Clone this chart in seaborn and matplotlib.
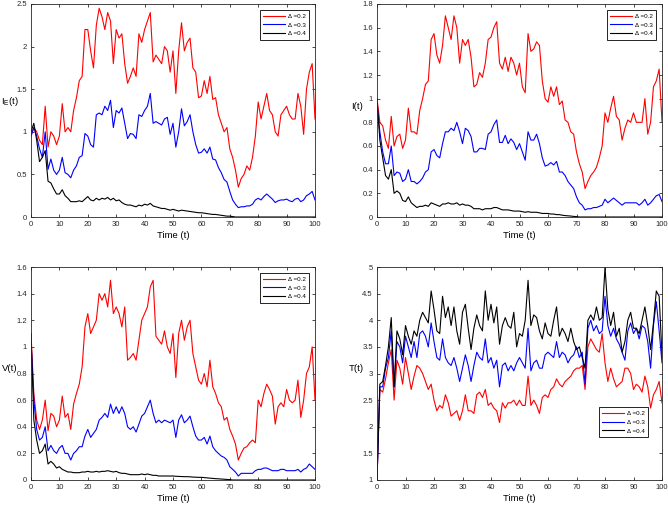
import matplotlib
matplotlib.use("Agg")
import matplotlib.pyplot as plt
import seaborn as sns
import pandas as pd
import numpy as np

# tempo (passo 1)
t = list(range(0, 101))
labels = ['Δ =0.2', 'Δ =0.3', 'Δ =0.4']
cores = {'Δ =0.2': 'red', 'Δ =0.3': 'blue', 'Δ =0.4': 'black'}

# I_E(t)
ie_02 = [0.95, 1.05, 1.0, 0.9, 0.85, 1.3, 0.82, 1.0, 0.95, 0.85, 0.95, 1.33, 1.0, 1.05, 1.0, 1.25, 1.4, 1.6, 1.65, 2.2,
         2.2, 1.95, 1.75, 2.25, 2.45, 2.35, 2.2, 2.4, 2.3, 1.8, 2.2, 2.1, 2.15, 1.8, 1.57, 1.65, 1.75, 1.65, 2.15, 2.05,
         2.2, 2.3, 2.4, 1.82, 1.9, 1.85, 1.8, 2.0, 1.95, 1.7, 1.95, 1.45, 1.95, 2.28, 1.95, 2.05, 2.1, 1.75, 1.7, 1.4,
         1.42, 1.6, 1.45, 1.65, 1.38, 1.4, 1.2, 1.1, 1.0, 1.05, 0.8, 0.7, 0.55, 0.35, 0.45, 0.5, 0.6, 0.55, 0.7, 0.95,
         1.35, 1.15, 1.3, 1.45, 1.25, 1.2, 1.0, 0.95, 1.2, 1.25, 1.3, 1.2, 1.15, 1.15, 1.45, 1.3, 0.97, 1.5, 1.7, 1.8,
         1.15]
ie_03 = [0.95, 1.05, 0.95, 0.8, 0.7, 1.0, 0.56, 0.68, 0.55, 0.5, 0.55, 0.7, 0.52, 0.5, 0.46, 0.55, 0.6, 0.7, 0.72, 0.98,
         0.95, 0.85, 0.82, 1.2, 1.22, 1.2, 1.3, 1.25, 1.37, 1.05, 1.25, 1.22, 1.28, 1.1, 0.92, 0.98, 0.97, 0.92, 1.2, 1.18,
         1.25, 1.3, 1.45, 1.1, 1.12, 1.1, 1.08, 1.15, 1.17, 0.97, 1.1, 0.82, 1.0, 1.27, 1.07, 1.12, 1.2, 1.0, 0.85, 0.75,
         0.76, 0.8, 0.75, 0.82, 0.68, 0.67, 0.58, 0.52, 0.44, 0.41, 0.3, 0.2, 0.15, 0.11, 0.12, 0.12, 0.13, 0.13, 0.15, 0.2,
         0.22, 0.2, 0.24, 0.27, 0.24, 0.21, 0.17, 0.19, 0.2, 0.2, 0.21, 0.19, 0.18, 0.21, 0.22, 0.18, 0.2, 0.25, 0.27, 0.3,
         0.2]
ie_04 = [1.0, 1.1, 0.9, 0.65, 0.7, 0.78, 0.42, 0.4, 0.33, 0.27, 0.27, 0.32, 0.25, 0.22, 0.18, 0.18, 0.18, 0.19, 0.18, 0.21,
         0.24, 0.2, 0.19, 0.22, 0.2, 0.22, 0.21, 0.23, 0.2, 0.22, 0.19, 0.2, 0.17, 0.15, 0.14, 0.14, 0.13, 0.12, 0.14, 0.13,
         0.15, 0.14, 0.16, 0.13, 0.12, 0.11, 0.1, 0.1, 0.09, 0.08, 0.09, 0.08, 0.07, 0.08, 0.075, 0.07, 0.065, 0.06, 0.055, 0.05,
         0.05, 0.045, 0.04, 0.035, 0.03, 0.03, 0.025, 0.02, 0.015, 0.01, 0.01, 0.005, 0.0, 0.0, 0.0, 0.0, 0.0, 0.0, 0.0, 0.0,
         0.0, 0.0, 0.0, 0.0, 0.0, 0.0, 0.0, 0.0, 0.0, 0.0, 0.0, 0.0, 0.0, 0.0, 0.0, 0.0, 0.0, 0.0, 0.0, 0.0,
         0.0]

# I(t)
i_02 = [1.0, 0.8, 0.77, 0.65, 0.58, 0.85, 0.6, 0.68, 0.7, 0.58, 0.65, 0.92, 0.72, 0.72, 0.7, 0.9, 1.0, 1.12, 1.15, 1.5,
        1.55, 1.37, 1.3, 1.45, 1.7, 1.6, 1.5, 1.7, 1.6, 1.3, 1.5, 1.45, 1.5, 1.35, 1.1, 1.12, 1.22, 1.18, 1.3, 1.5,
        1.52, 1.6, 1.65, 1.3, 1.25, 1.35, 1.23, 1.35, 1.3, 1.2, 1.3, 1.1, 1.05, 1.55, 1.4, 1.42, 1.48, 1.45, 1.15, 1.0,
        0.97, 1.1, 1.02, 1.1, 0.95, 0.98, 0.82, 0.8, 0.72, 0.7, 0.55, 0.45, 0.38, 0.24, 0.3, 0.35, 0.38, 0.42, 0.5, 0.6,
        0.88, 0.8, 0.92, 1.02, 0.85, 0.82, 0.65, 0.75, 0.82, 0.8, 0.88, 0.8, 0.8, 0.8, 1.0, 0.7, 0.8, 1.1, 1.15, 1.25,
        0.8]
i_03 = [0.95, 0.72, 0.55, 0.45, 0.45, 0.6, 0.35, 0.38, 0.37, 0.3, 0.32, 0.4, 0.3, 0.3, 0.28, 0.3, 0.33, 0.38, 0.4, 0.55,
        0.57, 0.52, 0.5, 0.62, 0.72, 0.72, 0.75, 0.73, 0.8, 0.72, 0.62, 0.75, 0.73, 0.68, 0.55, 0.55, 0.58, 0.58, 0.57, 0.7,
        0.72, 0.78, 0.82, 0.63, 0.63, 0.69, 0.62, 0.66, 0.63, 0.57, 0.62, 0.55, 0.48, 0.72, 0.65, 0.65, 0.7, 0.62, 0.5, 0.43,
        0.44, 0.46, 0.44, 0.47, 0.38, 0.38, 0.35, 0.3, 0.27, 0.24, 0.17, 0.12, 0.1, 0.06, 0.07, 0.07, 0.08, 0.08, 0.09, 0.1,
        0.15, 0.12, 0.14, 0.16, 0.14, 0.12, 0.1, 0.12, 0.12, 0.12, 0.12, 0.12, 0.1, 0.12, 0.15, 0.1, 0.12, 0.15, 0.18, 0.19,
        0.13]
i_04 = [1.0, 0.65, 0.5, 0.35, 0.32, 0.4, 0.2, 0.22, 0.2, 0.14, 0.13, 0.17, 0.12, 0.1, 0.08, 0.09, 0.09, 0.1, 0.09, 0.12,
        0.11, 0.1, 0.09, 0.11, 0.11, 0.12, 0.11, 0.11, 0.12, 0.1, 0.11, 0.1, 0.1, 0.09, 0.07, 0.07, 0.07, 0.06, 0.07, 0.07,
        0.07, 0.08, 0.08, 0.07, 0.06, 0.06, 0.06, 0.055, 0.05, 0.05, 0.05, 0.045, 0.04, 0.045, 0.04, 0.04, 0.04, 0.035, 0.03, 0.03,
        0.03, 0.025, 0.025, 0.02, 0.02, 0.015, 0.012, 0.01, 0.008, 0.005, 0.003, 0.0, 0.0, 0.0, 0.0, 0.0, 0.0, 0.0, 0.0, 0.0,
        0.0, 0.0, 0.0, 0.0, 0.0, 0.0, 0.0, 0.0, 0.0, 0.0, 0.0, 0.0, 0.0, 0.0, 0.0, 0.0, 0.0, 0.0, 0.0, 0.0,
        0.0]

# V(t)
v_02 = [1.1, 0.65, 0.45, 0.38, 0.45, 0.6, 0.37, 0.5, 0.48, 0.4, 0.45, 0.63, 0.47, 0.5, 0.38, 0.57, 0.65, 0.72, 0.85, 1.15,
        1.25, 1.1, 1.15, 1.2, 1.4, 1.35, 1.4, 1.3, 1.5, 1.25, 1.3, 1.25, 1.15, 1.3, 0.9, 0.92, 0.95, 0.9, 1.05, 1.2,
        1.25, 1.3, 1.45, 1.5, 1.08, 1.05, 1.02, 1.12, 1.0, 0.95, 1.1, 0.77, 1.1, 1.2, 1.05, 1.15, 1.2, 0.95, 0.85, 0.75,
        0.72, 0.8, 0.7, 0.9, 0.7, 0.65, 0.58, 0.55, 0.45, 0.47, 0.38, 0.33, 0.27, 0.15, 0.2, 0.24, 0.25, 0.28, 0.3, 0.28,
        0.6, 0.55, 0.65, 0.72, 0.68, 0.63, 0.42, 0.55, 0.58, 0.55, 0.68, 0.6, 0.58, 0.6, 0.75, 0.47, 0.6, 0.8, 0.85, 1.0,
        0.6]
v_03 = [1.05, 0.6, 0.38, 0.3, 0.32, 0.4, 0.22, 0.26, 0.22, 0.2, 0.24, 0.26, 0.2, 0.2, 0.15, 0.2, 0.22, 0.25, 0.25, 0.33,
        0.38, 0.32, 0.35, 0.38, 0.45, 0.47, 0.5, 0.47, 0.57, 0.5, 0.55, 0.5, 0.55, 0.5, 0.4, 0.38, 0.4, 0.36, 0.42, 0.48,
        0.5, 0.55, 0.6, 0.5, 0.43, 0.45, 0.43, 0.45, 0.44, 0.43, 0.45, 0.32, 0.45, 0.49, 0.43, 0.45, 0.48, 0.4, 0.33, 0.3,
        0.3, 0.32, 0.27, 0.33, 0.25, 0.22, 0.2, 0.18, 0.17, 0.15, 0.1, 0.08, 0.06, 0.03, 0.05, 0.05, 0.05, 0.05, 0.05, 0.07,
        0.08, 0.08, 0.09, 0.09, 0.08, 0.07, 0.07, 0.07, 0.08, 0.08, 0.07, 0.07, 0.07, 0.07, 0.08, 0.06, 0.08, 0.09, 0.12, 0.1,
        0.08]
v_04 = [1.1, 0.45, 0.3, 0.2, 0.22, 0.27, 0.12, 0.14, 0.12, 0.09, 0.1, 0.08, 0.07, 0.06, 0.06, 0.055, 0.055, 0.055, 0.06, 0.06,
        0.065, 0.06, 0.06, 0.065, 0.06, 0.065, 0.065, 0.07, 0.065, 0.06, 0.065, 0.055, 0.05, 0.05, 0.045, 0.04, 0.04, 0.04, 0.04, 0.045,
        0.04, 0.045, 0.04, 0.035, 0.035, 0.03, 0.03, 0.03, 0.03, 0.03, 0.03, 0.028, 0.027, 0.026, 0.025, 0.025, 0.024, 0.022, 0.021, 0.02,
        0.02, 0.018, 0.016, 0.014, 0.012, 0.01, 0.009, 0.007, 0.006, 0.004, 0.003, 0.0, 0.0, 0.0, 0.0, 0.0, 0.0, 0.0, 0.0, 0.0,
        0.0, 0.0, 0.0, 0.0, 0.0, 0.0, 0.0, 0.0, 0.0, 0.0, 0.0, 0.0, 0.0, 0.0, 0.0, 0.0, 0.0, 0.0, 0.0, 0.0,
        0.0]

# T(t)
T_02 = [1.0, 2.7, 2.65, 2.9, 3.2, 3.45, 2.5, 3.25, 3.1, 2.8, 3.3, 3.0, 2.7, 2.95, 3.15, 3.1, 3.0, 2.85, 2.7, 2.8,
        2.5, 2.3, 2.4, 2.35, 2.6, 2.45, 2.2, 2.25, 2.3, 2.12, 2.3, 2.6, 2.3, 2.3, 2.25, 2.6, 2.65, 2.55, 2.7, 2.4,
        2.45, 2.35, 2.3, 2.08, 2.45, 2.35, 2.45, 2.45, 2.5, 2.4, 2.5, 2.4, 2.4, 2.95, 2.4, 2.5, 2.4, 2.25, 2.55, 2.6,
        2.55, 2.7, 2.75, 2.9, 2.8, 2.75, 2.85, 2.9, 2.95, 3.05, 3.1, 3.1, 3.15, 2.7, 3.5, 3.65, 3.55, 3.45, 3.4, 3.75,
        3.2, 2.85, 3.1, 2.9, 2.75, 2.8, 2.85, 3.1, 3.1, 3.0, 2.7, 2.8, 2.75, 2.65, 2.95, 2.75, 2.35, 2.6, 2.7, 2.85,
        2.45]
T_03 = [1.0, 2.75, 2.75, 3.1, 3.3, 3.8, 2.75, 3.6, 3.5, 3.2, 3.7, 3.5, 3.3, 3.6, 3.3, 3.75, 3.8, 3.7, 3.5, 3.95,
        3.6, 3.3, 3.25, 3.65, 3.3, 3.2, 3.15, 3.3, 3.1, 2.85, 3.1, 3.35, 3.15, 2.85, 3.15, 3.4, 3.3, 3.25, 3.65, 3.2,
        3.3, 3.1, 3.25, 2.75, 3.15, 3.2, 3.05, 3.15, 3.05, 3.2, 3.3, 3.2, 3.1, 3.85, 3.05, 3.2, 3.25, 3.1, 3.1, 3.35,
        3.4, 3.35, 3.3, 3.6, 3.3, 3.4, 3.35, 3.2, 3.3, 3.35, 3.5, 3.3, 3.4, 2.8, 3.85, 4.0, 3.8, 3.9, 3.75, 3.8,
        4.45, 3.9, 3.7, 3.85, 3.65, 3.55, 3.4, 3.25, 3.8, 3.95, 3.75, 3.85, 3.65, 3.9, 3.85, 3.6, 3.1, 3.9, 4.35, 3.8,
        3.2]
T_04 = [1.0, 2.8, 2.85, 3.15, 3.5, 4.05, 2.75, 3.8, 3.65, 3.35, 3.9, 3.7, 3.55, 3.8, 3.7, 4.0, 4.15, 4.05, 3.95, 4.55,
        4.2, 3.8, 3.75, 4.45, 4.05, 4.25, 3.9, 4.25, 3.8, 3.55, 4.15, 4.3, 3.85, 3.45, 3.85, 4.1, 3.9, 3.8, 4.55, 4.0,
        4.3, 3.95, 4.25, 3.55, 3.9, 4.05, 3.9, 3.85, 4.15, 3.5, 3.75, 3.7, 4.0, 4.75, 3.9, 4.1, 4.05, 3.8, 3.65, 3.95,
        3.75, 3.7, 4.0, 4.25, 3.7, 3.85, 3.75, 3.6, 3.85, 3.6, 3.45, 3.5, 3.3, 3.1, 4.0, 4.1, 4.0, 4.25, 4.0, 4.05,
        5.0, 4.2, 3.9, 4.15, 3.7, 3.85, 3.4, 3.6, 4.0, 4.15, 3.85, 3.85, 3.75, 4.0, 4.25, 3.9, 3.45, 3.95, 4.55, 4.45,
        3.35]

plt.rcParams['mathtext.fontset'] = 'custom'
plt.rcParams['mathtext.rm'] = 'Liberation Sans'
plt.rcParams['font.family'] = ['Liberation Sans', 'DejaVu Sans']


def monta_df(series):
    partes = []
    for lab, vals in zip(labels, series):
        partes.append(pd.DataFrame({'t': t, 'y': vals, 'Delta': lab}))
    return pd.concat(partes, ignore_index=True)


fig = plt.figure(figsize=(6.68, 5.09), dpi=100)

# (series, rotulo y, limites, ticks, posicao da legenda, caixa do eixo em px, posicao do rotulo)
paineis = [
    ([ie_02, ie_03, ie_04], r'I$_{\rm E}$(t)', (0, 2.5), np.arange(0, 2.51, 0.5),
     dict(loc='upper right'), [31, 4, 315, 217], (-0.075, 0.54)),
    ([i_02, i_03, i_04], 'I(t)', (0, 1.8), np.arange(0, 1.81, 0.2),
     dict(loc='upper right'), [377, 4, 662, 217], (-0.07, 0.52)),
    ([v_02, v_03, v_04], 'V(t)', (0, 1.6), np.arange(0, 1.61, 0.2),
     dict(loc='upper right'), [31, 267, 315, 480], (-0.075, 0.525)),
    ([T_02, T_03, T_04], 'T(t)', (1, 5), np.arange(1, 5.01, 0.5),
     dict(loc='lower right', bbox_to_anchor=(0.972, 0.174)), [377, 267, 662, 480], (-0.072, 0.525)),
]

W, H = 668, 509
for series, ylab, ylim, yticks, leg, (x0, y0, x1, y1), lab_xy in paineis:
    ax = fig.add_axes([x0 / W, 1 - y1 / H, (x1 - x0) / W, (y1 - y0) / H])
    df = monta_df(series)
    sns.lineplot(data=df, x='t', y='y', hue='Delta', palette=cores, linewidth=0.8, ax=ax)
    ax.set_xlim(0, 100)
    ax.set_ylim(*ylim)
    ax.set_xticks(range(0, 101, 10))
    ax.set_yticks(yticks)
    ax.set_yticklabels([('%g' % v) for v in yticks])
    ax.tick_params(direction='in', top=True, right=True, labelsize=5.5, length=2.5, width=0.5,
                   labelcolor='#262626', pad=3)
    for s in ax.spines.values():
        s.set_linewidth(0.6)
        s.set_color('#262626')
    ax.set_xlabel('Time (t)', fontsize=6.8, labelpad=2)
    ax.set_ylabel(ylab, fontsize=6.8, rotation=0, ha='center', va='center')
    ax.yaxis.set_label_coords(*lab_xy)
    lg = ax.legend(fontsize=4.5, frameon=True, fancybox=False, edgecolor='black',
                   framealpha=1, handlelength=3.5, handletextpad=0.5, borderpad=0.5,
                   borderaxespad=1.0, labelspacing=0.55, **leg)
    lg.get_frame().set_linewidth(0.6)

fig.savefig('out.png', dpi=100)
